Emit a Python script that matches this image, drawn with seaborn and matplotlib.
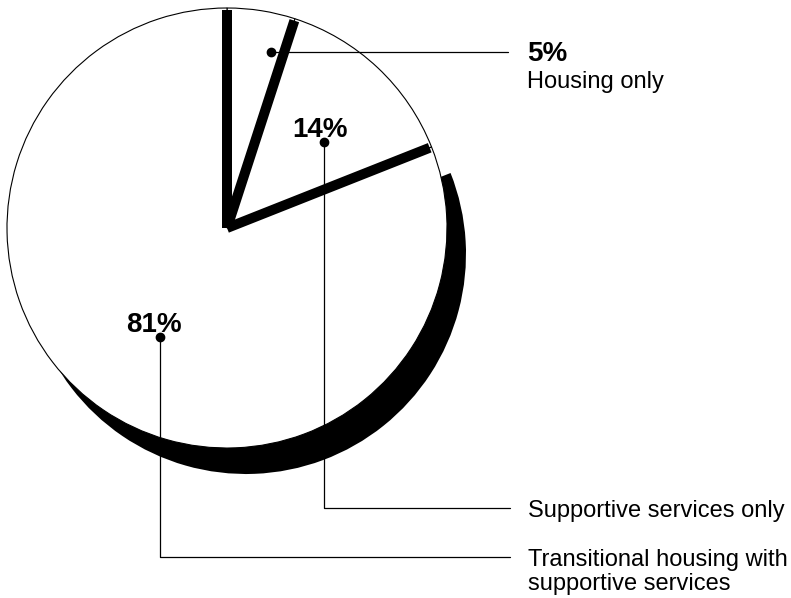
import numpy as np
import matplotlib
matplotlib.use("Agg")
import matplotlib.pyplot as plt
import seaborn as sns

# Share of programs by type of assistance (percent)
shares = [5, 14, 81]
pct_labels = ["5%", "14%", "81%"]
categories = [
    "Housing only",
    "Supportive services only",
    "Transitional housing with\nsupportive services",
]

sns.set_theme(style="white")
plt.rcParams["font.family"] = ["Liberation Sans", "DejaVu Sans"]

W, H = 791, 598
fig = plt.figure(figsize=(W / 100, H / 100), dpi=100)
ax = fig.add_axes([0, 0, 1, 1])

# pie geometry in pixel-like units (y grows downward)
cx, cy, r = 227, 228, 220
shadow_dx, shadow_dy = 19, 26

# drop shadow behind the largest slice
ax.pie(shares, center=(cx + shadow_dx, cy + shadow_dy), radius=r,
       startangle=-90, counterclock=True,
       colors=["none", "none", "black"],
       wedgeprops=dict(linewidth=0), frame=True)

# white slices with thin outline
ax.pie(shares, center=(cx, cy), radius=r,
       startangle=-90, counterclock=True,
       colors=["white"] * len(shares),
       wedgeprops=dict(edgecolor="black", linewidth=0.8), frame=True)

# heavy separators between slices
bounds = -90 + np.concatenate([[0], np.cumsum(shares)[:-1]]) * 3.6
for th in np.deg2rad(bounds):
    ax.plot([cx, cx + (r - 2) * np.cos(th)], [cy, cy + (r - 2) * np.sin(th)],
            color="black", lw=7.2, solid_capstyle="butt", zorder=5)

ax.set_xlim(0, W)
ax.set_ylim(H, 0)
ax.set_aspect("equal")
ax.axis("off")

lw = 0.9
bold = dict(fontsize=20, fontweight="bold", color="black", va="baseline")
reg = dict(fontsize=17, color="black", va="baseline")

# 5% - housing only
ax.plot([271, 508], [52, 52], color="black", lw=lw, zorder=6)
ax.plot([271], [52], "o", color="black", ms=6, zorder=7)
ax.text(527, 61, pct_labels[0], **bold)
ax.text(527, 88, categories[0], **reg)

# 14% - supportive services only
ax.text(292, 137, pct_labels[1], **bold, zorder=8)
ax.plot([324, 324, 510], [142, 508, 508], color="black", lw=lw, zorder=6)
ax.plot([324], [142], "o", color="black", ms=6, zorder=7)
ax.text(528, 517, categories[1], **reg)

# 81% - transitional housing with supportive services
ax.text(126, 332, pct_labels[2], **bold, zorder=8)
ax.plot([160, 160, 510], [337, 557, 557], color="black", lw=lw, zorder=6)
ax.plot([160], [337], "o", color="black", ms=6, zorder=7)
for i, line in enumerate(categories[2].split("\n")):
    ax.text(528, 566 + 24 * i, line, **reg)

fig.savefig("out.png", dpi=100, facecolor="white")
